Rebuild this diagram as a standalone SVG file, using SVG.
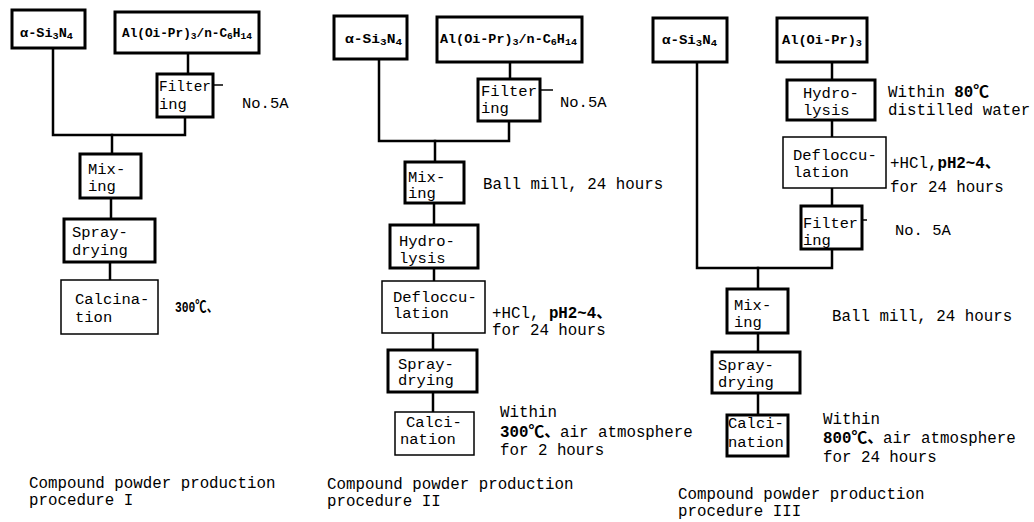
<svg xmlns="http://www.w3.org/2000/svg" width="1034" height="522" viewBox="0 0 1034 522">
<style>
.bx{fill:#fff;stroke:#000;stroke-width:3}
.tn{fill:#fff;stroke:#000;stroke-width:1.5}
.cn{fill:none;stroke:#000;stroke-width:2.5;stroke-linecap:square}
.tk{fill:none;stroke:#000;stroke-width:1.5}
text{font-family:"Liberation Mono","DejaVu Sans Mono","Noto Sans CJK JP",monospace;fill:#000}
.t{font-size:15.5px}
.f{font-size:15.5px}
.n{font-size:15.8px}
.h{font-size:12px;font-weight:bold}
.b{font-weight:bold}
.s{font-size:9px}
</style>
<rect width="1034" height="522" fill="#fff"/>
<g id="connectors">
<path class="cn" d="M53 48V135H185V117"/>
<path class="cn" d="M188 53V74"/>
<path class="cn" d="M112 135V154"/>
<path class="cn" d="M111 198V219"/>
<path class="cn" d="M110 262V280"/>
<path class="tk" d="M213 85H223"/>
<path class="cn" d="M379 59V141H509V121"/>
<path class="cn" d="M510 62V79"/>
<path class="cn" d="M435 141V162"/>
<path class="cn" d="M434 203V225"/>
<path class="cn" d="M434 268V281"/>
<path class="cn" d="M433 333V350"/>
<path class="cn" d="M433 392V412"/>
<path class="tk" d="M540 90H553"/>
<path class="cn" d="M697 62V268H832V249"/>
<path class="cn" d="M832 62V80"/>
<path class="cn" d="M832 120V137"/>
<path class="cn" d="M832 188V206"/>
<path class="cn" d="M758 268V289"/>
<path class="cn" d="M758 333V352"/>
<path class="cn" d="M758 393V415"/>
<path class="tk" d="M862 220H867"/>
</g>
<g id="p1-si3n4"><rect class="bx" x="12" y="10" width="73" height="38"/><text class="h" x="20" y="37" textLength="53" lengthAdjust="spacingAndGlyphs">α-Si<tspan class="s" dy="2">3</tspan><tspan dy="-2">N</tspan><tspan class="s" dy="2">4</tspan></text></g>
<g id="p1-al"><rect class="bx" x="115" y="12" width="144" height="41"/><text class="h" x="122" y="37" textLength="130" lengthAdjust="spacingAndGlyphs">Al(Oi-Pr)<tspan class="s" dy="2">3</tspan><tspan dy="-2">/n-C</tspan><tspan class="s" dy="2">6</tspan><tspan dy="-2">H</tspan><tspan class="s" dy="2">14</tspan></text></g>
<g id="p1-filter"><rect class="bx" x="157" y="74" width="56" height="43"/><text class="f" x="159" y="91" textLength="52" lengthAdjust="spacingAndGlyphs">Filter</text><text class="f" x="159" y="109">ing</text></g>
<g id="p1-filter-note"><text class="t" x="242" y="108">No.5A</text></g>
<g id="p1-mix"><rect class="bx" x="80" y="154" width="61" height="44"/><text class="t" x="88" y="174">Mix-</text><text class="t" x="88" y="191">ing</text></g>
<g id="p1-spray"><rect class="bx" x="64" y="219" width="91" height="43"/><text class="t" x="72" y="237">Spray-</text><text class="t" x="72" y="255">drying</text></g>
<g id="p1-calc"><rect class="tn" x="61" y="280" width="97" height="54"/><text class="t" x="75" y="304">Calcina-</text><text class="t" x="75" y="322">tion</text></g>
<g id="p1-calc-note"><text class="t b" x="175" y="312" textLength="43" lengthAdjust="spacingAndGlyphs">300℃、</text></g>
<g id="p1-caption"><text class="n" x="29" y="488">Compound powder production</text><text class="n" x="29" y="505">procedure I</text></g>

<g id="p2-si3n4"><rect class="bx" x="334" y="16" width="73" height="43"/><text class="h" x="345" y="43" textLength="57" lengthAdjust="spacingAndGlyphs">α-Si<tspan class="s" dy="2">3</tspan><tspan dy="-2">N</tspan><tspan class="s" dy="2">4</tspan></text></g>
<g id="p2-al"><rect class="bx" x="437" y="17" width="145" height="45"/><text class="h" x="440" y="43" textLength="137" lengthAdjust="spacingAndGlyphs">Al(Oi-Pr)<tspan class="s" dy="2">3</tspan><tspan dy="-2">/n-C</tspan><tspan class="s" dy="2">6</tspan><tspan dy="-2">H</tspan><tspan class="s" dy="2">14</tspan></text></g>
<g id="p2-filter"><rect class="bx" x="478" y="79" width="62" height="42"/><text class="f" x="481" y="96" textLength="56" lengthAdjust="spacingAndGlyphs">Filter</text><text class="f" x="481" y="113">ing</text></g>
<g id="p2-filter-note"><text class="t" x="560" y="107">No.5A</text></g>
<g id="p2-mix"><rect class="bx" x="405" y="162" width="59" height="41"/><text class="t" x="408" y="182">Mix-</text><text class="t" x="408" y="198">ing</text></g>
<g id="p2-mix-note"><text class="n" x="483" y="189">Ball mill, 24 hours</text></g>
<g id="p2-hydro"><rect class="bx" x="390" y="225" width="88" height="43"/><text class="t" x="399" y="246">Hydro-</text><text class="t" x="399" y="263">lysis</text></g>
<g id="p2-defl"><rect class="tn" x="382" y="281" width="103" height="52"/><text class="t" x="393" y="302">Defloccu-</text><text class="t" x="393" y="318">lation</text></g>
<g id="p2-defl-note"><text class="n" x="492" y="318">+HCl, <tspan class="b">pH2~4、</tspan></text><text class="n" x="492" y="335">for 24 hours</text></g>
<g id="p2-spray"><rect class="bx" x="388" y="350" width="89" height="42"/><text class="t" x="398" y="369">Spray-</text><text class="t" x="398" y="385">drying</text></g>
<g id="p2-calc"><rect class="tn" x="395" y="412" width="79" height="43"/><text class="t" x="406" y="427">Calci-</text><text class="t" x="400" y="444">nation</text></g>
<g id="p2-calc-note"><text class="n" x="500" y="417">Within</text><text class="n" x="500" y="437"><tspan class="b">300℃、</tspan>air atmosphere</text><text class="n" x="500" y="455">for 2 hours</text></g>
<g id="p2-caption"><text class="n" x="327" y="489">Compound powder production</text><text class="n" x="327" y="506">procedure II</text></g>

<g id="p3-si3n4"><rect class="bx" x="653" y="18" width="74" height="44"/><text class="h" x="662" y="44" textLength="55" lengthAdjust="spacingAndGlyphs">α-Si<tspan class="s" dy="2">3</tspan><tspan dy="-2">N</tspan><tspan class="s" dy="2">4</tspan></text></g>
<g id="p3-al"><rect class="bx" x="777" y="18" width="90" height="44"/><text class="h" x="782" y="44" textLength="80" lengthAdjust="spacingAndGlyphs">Al(Oi-Pr)<tspan class="s" dy="2">3</tspan></text></g>
<g id="p3-hydro"><rect class="bx" x="787" y="80" width="88" height="40"/><text class="t" x="803" y="98">Hydro-</text><text class="t" x="803" y="115">lysis</text></g>
<g id="p3-hydro-note"><text class="n" x="888" y="97">Within <tspan class="b">80℃</tspan></text><text class="n" x="888" y="115">distilled water</text></g>
<g id="p3-defl"><rect class="tn" x="783" y="137" width="103" height="51"/><text class="t" x="793" y="160">Defloccu-</text><text class="t" x="793" y="177">lation</text></g>
<g id="p3-defl-note"><text class="n" x="890" y="168">+HCl,<tspan class="b">pH2~4、</tspan></text><text class="n" x="890" y="192">for 24 hours</text></g>
<g id="p3-filter"><rect class="bx" x="801" y="206" width="61" height="43"/><text class="f" x="803" y="228" textLength="55" lengthAdjust="spacingAndGlyphs">Filter</text><text class="f" x="803" y="245">ing</text></g>
<g id="p3-filter-note"><text class="t" x="895" y="235">No. 5A</text></g>
<g id="p3-mix"><rect class="bx" x="727" y="289" width="61" height="44"/><text class="t" x="734" y="310">Mix-</text><text class="t" x="734" y="327">ing</text></g>
<g id="p3-mix-note"><text class="n" x="832" y="321">Ball mill, 24 hours</text></g>
<g id="p3-spray"><rect class="bx" x="712" y="352" width="88" height="41"/><text class="t" x="718" y="370">Spray-</text><text class="t" x="718" y="387">drying</text></g>
<g id="p3-calc"><rect class="bx" x="727" y="415" width="61" height="41"/><text class="t" x="728" y="428">Calci-</text><text class="t" x="728" y="447">nation</text></g>
<g id="p3-calc-note"><text class="n" x="823" y="424">Within</text><text class="n" x="823" y="443"><tspan class="b">800℃、</tspan>air atmosphere</text><text class="n" x="823" y="462">for 24 hours</text></g>
<g id="p3-caption"><text class="n" x="678" y="499">Compound powder production</text><text class="n" x="678" y="516">procedure III</text></g>
</svg>
